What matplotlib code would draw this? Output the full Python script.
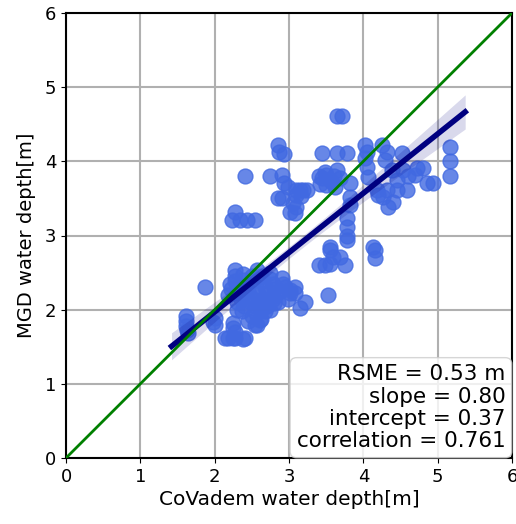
import numpy as np
import matplotlib
matplotlib.use("Agg")
import matplotlib.pyplot as plt

# CoVadem (x) vs MGD (y) water depth
covadem = [
    1.62, 1.62, 1.62, 1.63, 1.64, 1.87, 2.00, 2.00, 1.98,
    2.14, 2.18, 2.24, 2.28, 2.41, 2.38, 2.25, 2.25, 2.27,
    2.45, 2.50, 2.57, 2.62, 2.55, 2.70, 2.68, 2.54, 2.61,
    2.27, 2.27, 2.27, 2.30, 2.32, 2.35, 2.30,
    2.38, 2.40, 2.42, 2.45, 2.42, 2.48, 2.40,
    2.50, 2.52, 2.55, 2.58, 2.52, 2.60, 2.55,
    2.57, 2.62, 2.65, 2.68, 2.70, 2.65, 2.72,
    2.75, 2.78, 2.80, 2.82, 2.78, 2.85,
    2.90, 2.92, 2.88, 2.95, 2.20, 2.22, 2.18, 2.75, 2.62,
    2.30, 2.37, 2.74, 2.80, 2.98, 3.02, 3.08, 3.08, 3.22, 3.15, 3.01,
    2.85, 2.87, 2.93, 2.41, 2.74, 2.91, 2.93, 2.98,
    3.10, 3.15, 3.24, 3.10, 2.85, 2.90, 3.05, 3.10, 3.02, 3.08,
    2.27, 2.23, 2.34, 2.43, 2.54, 3.19, 3.16,
    3.44, 3.64, 3.78, 3.65, 3.71,
    4.02, 4.05, 4.02, 4.25, 4.32, 4.29, 4.52,
    5.17, 5.17, 5.17,
    3.40, 3.45, 3.50, 3.55, 3.60, 3.42, 3.50, 3.58, 3.65, 3.68, 3.48, 3.62,
    3.82, 4.05, 4.06, 4.18, 4.32, 4.45, 4.59,
    4.27, 4.33, 4.40, 4.20,
    4.53, 4.72, 4.80, 4.70, 4.39, 4.45, 4.60, 4.86, 4.94,
    3.82, 3.82, 3.78, 3.78, 3.78, 3.78,
    3.55, 4.13, 3.55, 4.16, 4.16,
    3.48, 3.59, 3.69, 3.75, 3.55, 3.40, 3.53,
]
mgd = [
    1.92, 1.85, 1.78, 1.72, 1.68, 2.31, 1.89, 1.80, 1.84,
    1.62, 1.62, 1.62, 1.62, 1.62, 1.60, 1.82, 1.75, 1.70,
    1.85, 1.92, 1.79, 1.88, 1.95, 2.05, 1.98, 1.79, 1.86,
    2.53, 2.45, 2.38, 2.30, 2.22, 2.15, 2.10,
    2.48, 2.40, 2.32, 2.25, 2.18, 2.10, 2.05,
    2.45, 2.38, 2.30, 2.22, 2.15, 2.10, 2.03,
    2.53, 2.45, 2.38, 2.30, 2.22, 2.15, 2.12,
    2.42, 2.35, 2.28, 2.20, 2.15, 2.10,
    2.43, 2.35, 2.25, 2.30, 2.35, 2.28, 2.20, 2.00, 2.00,
    2.00, 1.98, 2.49, 2.09, 2.15, 2.22, 2.31, 2.22, 2.10, 2.02, 2.26,
    4.22, 4.12, 4.10, 3.80, 3.80, 3.81, 3.71, 3.66,
    3.61, 3.61, 3.61, 3.55, 3.51, 3.51, 3.44, 3.39, 3.32, 3.30,
    3.32, 3.21, 3.21, 3.21, 3.21, 3.61, 3.53,
    4.11, 4.11, 4.11, 4.61, 4.61,
    4.22, 4.13, 4.05, 4.22, 4.13, 4.02, 4.11,
    4.19, 4.00, 3.80,
    3.80, 3.78, 3.82, 3.75, 3.80, 3.70, 3.68, 3.72, 3.88, 3.78, 3.85, 3.65,
    3.71, 3.92, 3.79, 3.61, 3.61, 3.61, 3.61,
    3.52, 3.38, 3.45, 3.55,
    3.88, 3.91, 3.91, 3.82, 3.88, 3.75, 3.80, 3.71, 3.71,
    3.52, 3.41, 3.24, 3.12, 3.00, 2.94,
    2.85, 2.85, 2.80, 2.80, 2.70,
    2.60, 2.71, 2.71, 2.60, 2.62, 2.60, 2.20,
]

# fit stats printed in the box
rsme = 0.53
slope = 0.80
intercept = 0.37
correlation = 0.761

x = np.array(covadem)
y = np.array(mgd)

fig = plt.figure(figsize=(5.16, 5.24), dpi=100)
ax = fig.add_axes([66 / 516, 1 - 458 / 524, 446 / 516, 445 / 524])

ax.grid(True, color="#b0b0b0", linewidth=1.5, zorder=0)
ax.set_axisbelow(True)

ax.scatter(x, y, s=115, color="royalblue", alpha=0.8, linewidths=1,
           edgecolors="royalblue", zorder=2)

# regression line with 95% confidence band
xs = np.linspace(x.min() - 0.2, x.max() + 0.2, 100)
yfit = slope * xs + intercept
n = len(x)
resid = y - (slope * x + intercept)
s = np.sqrt(np.sum(resid ** 2) / (n - 2))
sxx = np.sum((x - x.mean()) ** 2)
band = 1.8 * s * np.sqrt(1 / n + (xs - x.mean()) ** 2 / sxx)
ax.fill_between(xs, yfit - band, yfit + band, color="navy", alpha=0.15,
                linewidth=0, zorder=3)
ax.plot(xs, yfit, color="navy", linewidth=4, zorder=4)

ax.plot([0, 6], [0, 6], color="green", linewidth=2, zorder=5)

ax.set_xlim(0, 6)
ax.set_ylim(0, 6)
ax.set_xticks(range(7))
ax.set_yticks(range(7))
ax.tick_params(labelsize=13)
for sp in ax.spines.values():
    sp.set_linewidth(1.5)
ax.set_xlabel("CoVadem water depth[m]", fontsize=14.5, labelpad=3)
ax.set_ylabel("MGD water depth[m]", fontsize=14, labelpad=6)

txt = "RSME = %.2f m\nslope = %.2f\nintercept = %.2f\ncorrelation = %.3f" % (
    rsme, slope, intercept, correlation)
ax.text(0.985, 0.015, txt, transform=ax.transAxes, ha="right", va="bottom",
        fontsize=15.5, multialignment="right", linespacing=1.15, zorder=6,
        bbox=dict(boxstyle="round,pad=0.3", facecolor="white",
                  edgecolor="0.8", alpha=0.8))

fig.savefig("out.png", dpi=100)
